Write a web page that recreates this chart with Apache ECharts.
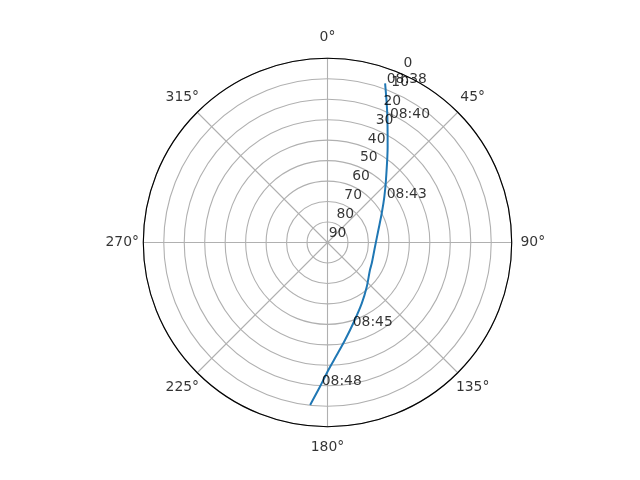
<!DOCTYPE html>
<html>
<head>
<meta charset="utf-8">
<script src="https://cdn.jsdelivr.net/npm/echarts@6/dist/echarts.min.js"></script>
<style>
html,body{margin:0;padding:0;background:#fff;}
#chart{width:640px;height:480px;}
</style>
</head>
<body>
<div id="chart"></div>
<script>
// Track: azimuth (deg, clockwise from north) and elevation (deg)
const trackAz = [19.9, 24.8, 32.1, 43.1, 51.1, 61.7, 76.2, 95.1, 115.2, 122.9, 138.4, 150.6, 162.3, 169.8, 175.3, 179.6, 183.0, 186.1];
const trackEl = [7.3, 20.4, 34.7, 48.2, 54.3, 59.9, 64.4, 66.7, 66.1, 65.3, 61.1, 55.9, 48.6, 41.6, 34.8, 27.7, 19.4, 10.2];

// Time annotations along the track
const timeLabels = ['08:38', '08:40', '08:43', '08:45', '08:48'];
const timeAz = [20.4, 26.7, 53.3, 163.3, 182.3];
const timeEl = [6.9, 22.1, 53.9, 47.1, 20.0];

// Axis ticks
const radialTicks = [0, 10, 20, 30, 40, 50, 60, 70, 80, 90];
const angleTicks = [0, 45, 90, 135, 180, 225, 270, 315];
const radialLabelAngle = 22.5;

const FONT = 'DejaVu Sans';
const chart = echarts.init(document.getElementById('chart'), null, {renderer: 'canvas'});

const trackData = trackAz.map((a, i) => [trackEl[i], a]);
const timeData = timeLabels.map((t, i) => ({name: t, value: [timeEl[i], timeAz[i]]}));
const radialData = radialTicks.map(v => ({name: String(v), value: [v, radialLabelAngle]}));
const angleData = angleTicks.map(a => ({name: a + '°', value: [1, a]}));

const hiddenAxis = {
  axisLine: {show: false}, axisTick: {show: false},
  axisLabel: {show: false}, splitLine: {show: false}, splitArea: {show: false}
};

chart.setOption({
  backgroundColor: '#fff',
  animation: false,
  polar: [
    {center: [327.5, 242.5], radius: 184.2},
    {center: [327.5, 242.5], radius: 205.3}
  ],
  angleAxis: [{
    polarIndex: 0,
    type: 'value', min: 0, max: 360, interval: 45,
    startAngle: 90, clockwise: true,
    axisLine: {show: true, lineStyle: {color: '#000', width: 1.1}},
    axisTick: {show: false},
    axisLabel: {show: false},
    splitLine: {show: true, lineStyle: {color: '#b0b0b0', width: 1.1}}
  }, Object.assign({
    polarIndex: 1,
    type: 'value', min: 0, max: 360, interval: 45,
    startAngle: 90, clockwise: true
  }, hiddenAxis)],
  radiusAxis: [{
    polarIndex: 0,
    type: 'value', min: 0, max: 90, interval: 10, inverse: true,
    axisLine: {show: false},
    axisTick: {show: false},
    axisLabel: {show: false},
    splitLine: {show: true, lineStyle: {color: '#b0b0b0', width: 1.1}}
  }, Object.assign({
    polarIndex: 1,
    type: 'value', min: 0, max: 1
  }, hiddenAxis)],
  series: [
    {
      type: 'line', coordinateSystem: 'polar', polarIndex: 0, data: trackData,
      showSymbol: false, symbol: 'none', smooth: 0.3,
      lineStyle: {color: '#1f77b4', width: 2}, z: 3
    },
    {
      type: 'scatter', coordinateSystem: 'polar', polarIndex: 0, data: radialData,
      symbolSize: 0, silent: true, z: 4,
      label: {show: true, formatter: '{b}', position: 'inside', align: 'center', verticalAlign: 'middle',
        offset: [10, -9], color: '#000', fontFamily: FONT, fontSize: 13.9}
    },
    {
      type: 'scatter', coordinateSystem: 'polar', polarIndex: 1, data: angleData,
      symbolSize: 0, silent: true, z: 4,
      label: {show: true, formatter: '{b}', position: 'inside', align: 'center', verticalAlign: 'middle',
        color: '#000', fontFamily: FONT, fontSize: 13.9}
    },
    {
      type: 'scatter', coordinateSystem: 'polar', polarIndex: 0, data: timeData,
      symbolSize: 0, silent: true, z: 5,
      label: {show: true, formatter: '{b}', position: 'inside', align: 'left', verticalAlign: 'bottom',
        offset: [0, 3], color: '#000', fontFamily: FONT, fontSize: 13.9}
    }
  ]
});
</script>
</body>
</html>
